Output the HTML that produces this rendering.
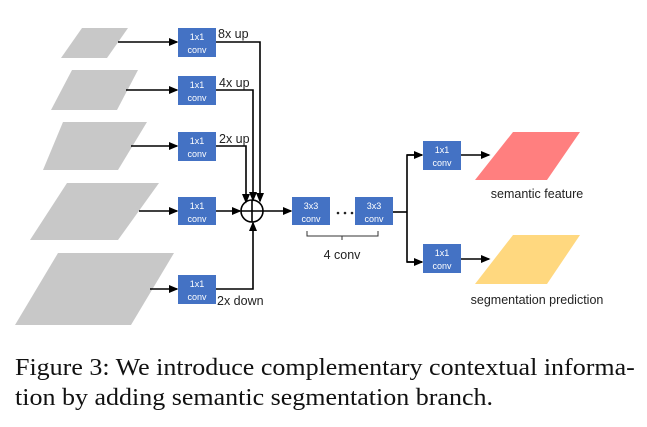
<!DOCTYPE html>
<html><head><style>
body{margin:0;background:#fff;width:647px;height:427px;overflow:hidden}
.cap{position:absolute;left:15px;font-family:"Liberation Serif",serif;font-size:26px;line-height:30px;color:#111;white-space:nowrap;transform-origin:0 0;transform:scaleY(0.92)}
</style></head><body>
<svg width="647" height="427" style="position:absolute;left:0;top:0" font-family="Liberation Sans, sans-serif">
<defs><marker id="a" markerWidth="6" markerHeight="6" refX="5" refY="3" orient="auto"><path d="M0,0.5 L6,3 L0,5.5z" fill="#000"/></marker></defs>
<g fill="#c8c8c8">
<polygon points="82,28 128,28 107,58 61,58"/>
<polygon points="72,70 138,70 117,110 51,110"/>
<polygon points="63,122 147,122 118,170 43,170"/>
<polygon points="67,183 159,183 118,240 30,240"/>
<polygon points="58,253 174,253 131,325 15,325"/>
</g>
<polygon points="513,132 580,132 547,180 475,180" fill="#ff7f7f"/>
<polygon points="513,235 580,235 547,284 475,284" fill="#ffd87f"/>
<g stroke="#000" stroke-width="1.6" fill="none">
<line x1="118" y1="42" x2="177" y2="42" marker-end="url(#a)"/>
<line x1="126" y1="90" x2="177" y2="90" marker-end="url(#a)"/>
<line x1="131" y1="146" x2="177" y2="146" marker-end="url(#a)"/>
<line x1="139" y1="211" x2="177" y2="211" marker-end="url(#a)"/>
<line x1="150" y1="289" x2="177" y2="289" marker-end="url(#a)"/>
<polyline points="216,42 260,42 260,201" marker-end="url(#a)"/>
<polyline points="216,90 253,90 253,200" marker-end="url(#a)"/>
<polyline points="216,146 246,146 246,202" marker-end="url(#a)"/>
<line x1="216" y1="211" x2="240" y2="211" marker-end="url(#a)"/>
<polyline points="216,289 253,289 253,223" marker-end="url(#a)"/>
<circle cx="252" cy="211" r="11"/>
<line x1="241" y1="211" x2="263" y2="211"/><line x1="252" y1="200" x2="252" y2="222"/>
<line x1="263" y1="211" x2="291" y2="211" marker-end="url(#a)"/>
<line x1="393" y1="212" x2="407" y2="212"/>
<polyline points="422,155 407,155 407,262 422,262"/>
<line x1="407" y1="155" x2="422" y2="155" marker-end="url(#a)"/>
<line x1="407" y1="262" x2="422" y2="262" marker-end="url(#a)"/>
<line x1="461" y1="155" x2="489" y2="155" marker-end="url(#a)"/>
<line x1="461" y1="259" x2="489" y2="259" marker-end="url(#a)"/>
</g>
<path d="M307,231 V236 H378 V231 M342,236 V240" stroke="#333" stroke-width="1" fill="none"/>
<g fill="#4472c4">
<rect x="178" y="28" width="38" height="29"/><rect x="178" y="76" width="38" height="29"/>
<rect x="178" y="132" width="38" height="29"/><rect x="178" y="197" width="38" height="28"/>
<rect x="178" y="275" width="38" height="29"/>
<rect x="292" y="197" width="38" height="28"/><rect x="355" y="197" width="38" height="28"/>
<rect x="423" y="141" width="38" height="29"/><rect x="423" y="244" width="38" height="29"/>
</g>
<g fill="#fff" font-size="9" text-anchor="middle">
<text x="197" y="40">1x1</text><text x="197" y="53">conv</text>
<text x="197" y="88">1x1</text><text x="197" y="101">conv</text>
<text x="197" y="144">1x1</text><text x="197" y="157">conv</text>
<text x="197" y="209">1x1</text><text x="197" y="222">conv</text>
<text x="197" y="287">1x1</text><text x="197" y="300">conv</text>
<text x="311" y="209">3x3</text><text x="311" y="222">conv</text>
<text x="374" y="209">3x3</text><text x="374" y="222">conv</text>
<text x="442" y="153">1x1</text><text x="442" y="166">conv</text>
<text x="442" y="256">1x1</text><text x="442" y="269">conv</text>
</g>
<g fill="#222" font-size="12.5">
<text x="218" y="38">8x up</text><text x="219" y="87">4x up</text><text x="219" y="143">2x up</text>
<text x="217" y="305">2x down</text>
<text x="342" y="259" text-anchor="middle">4 conv</text>
<text x="537" y="198" text-anchor="middle">semantic feature</text>
<text x="537" y="304" text-anchor="middle">segmentation prediction</text>
</g>
<g fill="#222"><circle cx="338" cy="213" r="1.3"/><circle cx="345" cy="213" r="1.3"/><circle cx="352" cy="213" r="1.3"/></g>
</svg>
<div class="cap" style="top:354px">Figure 3: We introduce complementary contextual informa-</div>
<div class="cap" style="top:384px">tion by adding semantic segmentation branch.</div>
</body></html>
